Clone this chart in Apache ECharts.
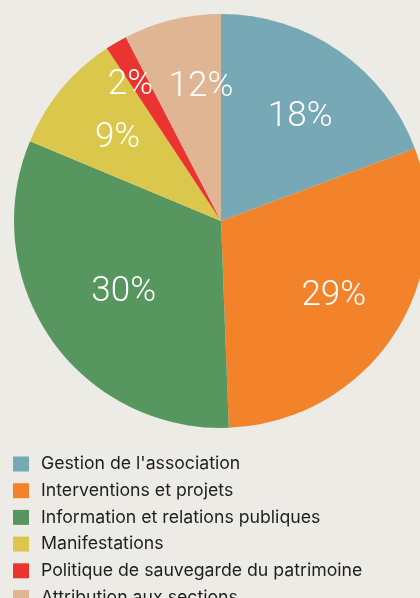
<!DOCTYPE html>
<html>
<head>
<meta charset="utf-8">
<script src="https://cdn.jsdelivr.net/npm/echarts@6/dist/echarts.min.js"></script>
<style>
  html, body { margin: 0; padding: 0; background: #edebe5; }
  #chart { width: 420px; height: 598px; }
</style>
</head>
<body>
<div id="chart"></div>
<script>
// categories, in drawing order (clockwise from 12 o'clock)
var categories = [
  "Gestion de l'association",
  'Interventions et projets',
  'Information et relations publiques',
  'Manifestations',
  'Politique de sauvegarde du patrimoine',
  'Attribution aux sections'
];
// slice shares as drawn in the picture
var shares = [19.3, 30.1, 31.9, 9.4, 1.7, 7.6];
// percentages printed on the slices
var printed = ['18%', '29%', '30%', '9%', '2%', '12%'];
var colors = ['#76a8b5', '#f2832b', '#58965f', '#dac74b', '#eb3330', '#e0b593'];

// small nudges for the labels that sit off the common ring
var labelNudge = { 0: [2, 8], 2: [14, -6], 3: [1, 4], 4: [-22, -19], 5: [12, -2] };

function pieData() {
  var res = [];
  for (let i = 0; i < categories.length; i++) {
    res.push({ name: categories[i], value: shares[i], itemStyle: { color: colors[i] } });
  }
  return res;
}

var chart = echarts.init(document.getElementById('chart'));
chart.setOption({
  backgroundColor: '#edebe5',
  animation: false,
  legend: {
    orient: 'vertical',
    left: 13,
    top: 455,
    height: 300,
    padding: 0,
    itemWidth: 16,
    itemHeight: 15,
    itemGap: 8.7,
    icon: 'rect',
    data: categories,
    textStyle: {
      color: '#1e1e1e',
      fontSize: 17.7,
      fontFamily: 'Inter',
      padding: [0, 0, 0, 7]
    }
  },
  series: [
    {
      type: 'pie',
      center: [221, 221],
      radius: [0, 207],
      startAngle: 90,
      clockwise: true,
      silent: true,
      label: { show: false },
      labelLine: { show: false },
      data: pieData()
    },
    {
      // transparent ring that only carries the percentage labels
      type: 'pie',
      center: [221, 221],
      radius: [58, 207],
      startAngle: 90,
      clockwise: true,
      silent: true,
      itemStyle: { color: 'rgba(0,0,0,0)' },
      labelLine: { show: false },
      label: {
        show: true,
        position: 'inside',
        color: '#ffffff',
        fontSize: 35,
        fontFamily: 'Roboto',
        fontWeight: 300,
        formatter: function (p) { return printed[p.dataIndex]; }
      },
      labelLayout: function (p) {
        var n = labelNudge[p.dataIndex];
        return n ? { dx: n[0], dy: n[1] } : {};
      },
      data: categories.map(function (c, i) { return { name: c, value: shares[i] }; })
    }
  ]
});
</script>
</body>
</html>
